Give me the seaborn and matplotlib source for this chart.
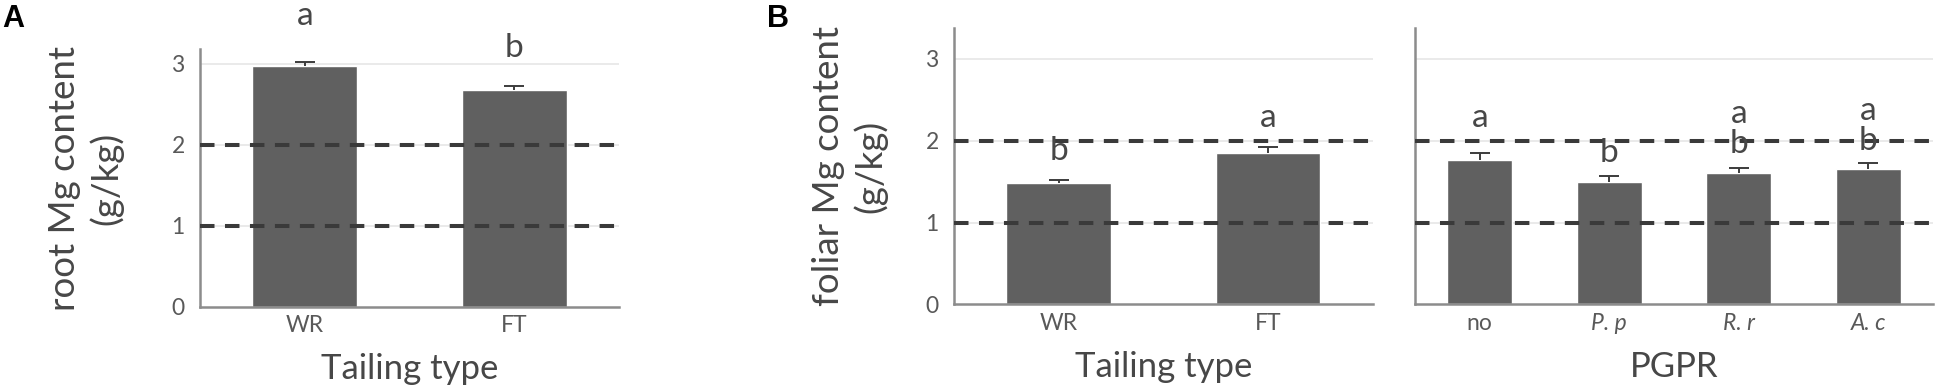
import numpy as np
import matplotlib
matplotlib.use('Agg')
import matplotlib.pyplot as plt
import seaborn as sns

sns.set_style('white')
plt.rcParams['font.family'] = ['Lato', 'DejaVu Sans']

# 数据
tailing = ['WR', 'FT']
root_mg = [2.97, 2.68]
root_err = [0.05, 0.05]
root_letters = [['a'], ['b']]

foliar_tail_mg = [1.48, 1.85]
foliar_tail_err = [0.04, 0.07]
foliar_tail_letters = [['b'], ['a']]

pgpr = ['no', 'P. p', 'R. r', 'A. c']
foliar_pgpr_mg = [1.77, 1.50, 1.60, 1.66]
foliar_pgpr_err = [0.08, 0.07, 0.065, 0.065]
foliar_pgpr_letters = [['a'], ['b'], ['a', 'b'], ['a', 'b']]

thresholds = [1, 2]
yticks = [0, 1, 2, 3]

BAR = '#606060'
ERR = '#3c3c3c'
DASH = '#3a3a3a'
GRID = '#e6e6e6'
SPINE = '#8c8c8c'
TICK = '#595959'
LABEL = '#474747'


def draw(ax, cats, vals, errs, letters, pads, ymax):
    sns.barplot(x=cats, y=vals, color=BAR, width=0.5, saturation=1,
                errorbar=None, ax=ax, zorder=2)
    n = len(cats)
    xs = np.arange(n)
    tops = np.array(vals) + np.array(errs)
    # 只画向上的误差线
    ax.vlines(xs, vals, tops, color=ERR, lw=1.4, zorder=3)
    ax.plot(xs, tops, ls='none', marker='_', markersize=15,
            markeredgewidth=1.4, color=ERR, zorder=3)
    for y in yticks[1:]:
        ax.axhline(y, color=GRID, lw=1.2, zorder=0)
    for t in thresholds:
        ax.axhline(t, color=DASH, lw=2.9, ls=(0, (3.6, 2.6)), zorder=4)
    ax.set_xlim(-0.5, n - 0.5)
    ax.set_ylim(0, ymax)
    ax.set_yticks(yticks)
    # 显著性字母
    for i in range(n):
        base = tops[i] + pads[i]
        for k, s in enumerate(reversed(letters[i])):
            ax.text(i, base + k * 0.37, s, ha='center', va='baseline',
                    fontsize=24, color=LABEL, zorder=5)
    for s in ['top', 'right']:
        ax.spines[s].set_visible(False)
    for s in ['left', 'bottom']:
        ax.spines[s].set_color(SPINE)
        ax.spines[s].set_linewidth(1.8)
    ax.tick_params(axis='both', length=0, labelsize=16.5, colors=TICK)
    ax.tick_params(axis='x', pad=6)
    ax.tick_params(axis='y', pad=11)


fig = plt.figure(figsize=(19.44, 3.89), dpi=100)

ax1 = fig.add_axes([0.1029, 0.2108, 0.2155, 0.6632])
ax2 = fig.add_axes([0.4907, 0.2177, 0.2155, 0.7103])
ax3 = fig.add_axes([0.7279, 0.2177, 0.2665, 0.7103])

draw(ax1, tailing, root_mg, root_err, root_letters, [0.46, 0.36], 3.185)
draw(ax2, tailing, foliar_tail_mg, foliar_tail_err, foliar_tail_letters, [0.24, 0.25], 3.378)
draw(ax3, pgpr, foliar_pgpr_mg, foliar_pgpr_err, foliar_pgpr_letters, [0.32, 0.17, 0.18, 0.16], 3.378)

ax3.set_yticklabels([])
for lab in ax3.get_xticklabels()[1:]:
    lab.set_fontstyle('italic')

ax1.set_ylabel('root Mg content\n(g/kg)', fontsize=26.5, color=LABEL, linespacing=1.25)
ax1.yaxis.set_label_coords(-0.184, 0.5)
ax2.set_ylabel('foliar Mg content\n(g/kg)', fontsize=26.5, color=LABEL, linespacing=1.25)
ax2.yaxis.set_label_coords(-0.16, 0.5)

ax1.set_xlabel('Tailing type', fontsize=25, color=LABEL)
ax1.xaxis.set_label_coords(0.5, -0.18)
ax2.set_xlabel('Tailing type', fontsize=25, color=LABEL)
ax2.xaxis.set_label_coords(0.5, -0.17)
ax3.set_xlabel('PGPR', fontsize=25, color=LABEL)
ax3.xaxis.set_label_coords(0.5, -0.17)

fig.text(0.001, 0.99, 'A', fontsize=22, fontweight='bold', va='top',
         family=['Liberation Sans', 'DejaVu Sans'], color='black')
fig.text(0.3946, 0.99, 'B', fontsize=22, fontweight='bold', va='top',
         family=['Liberation Sans', 'DejaVu Sans'], color='black')

fig.savefig('out.png', dpi=100)
